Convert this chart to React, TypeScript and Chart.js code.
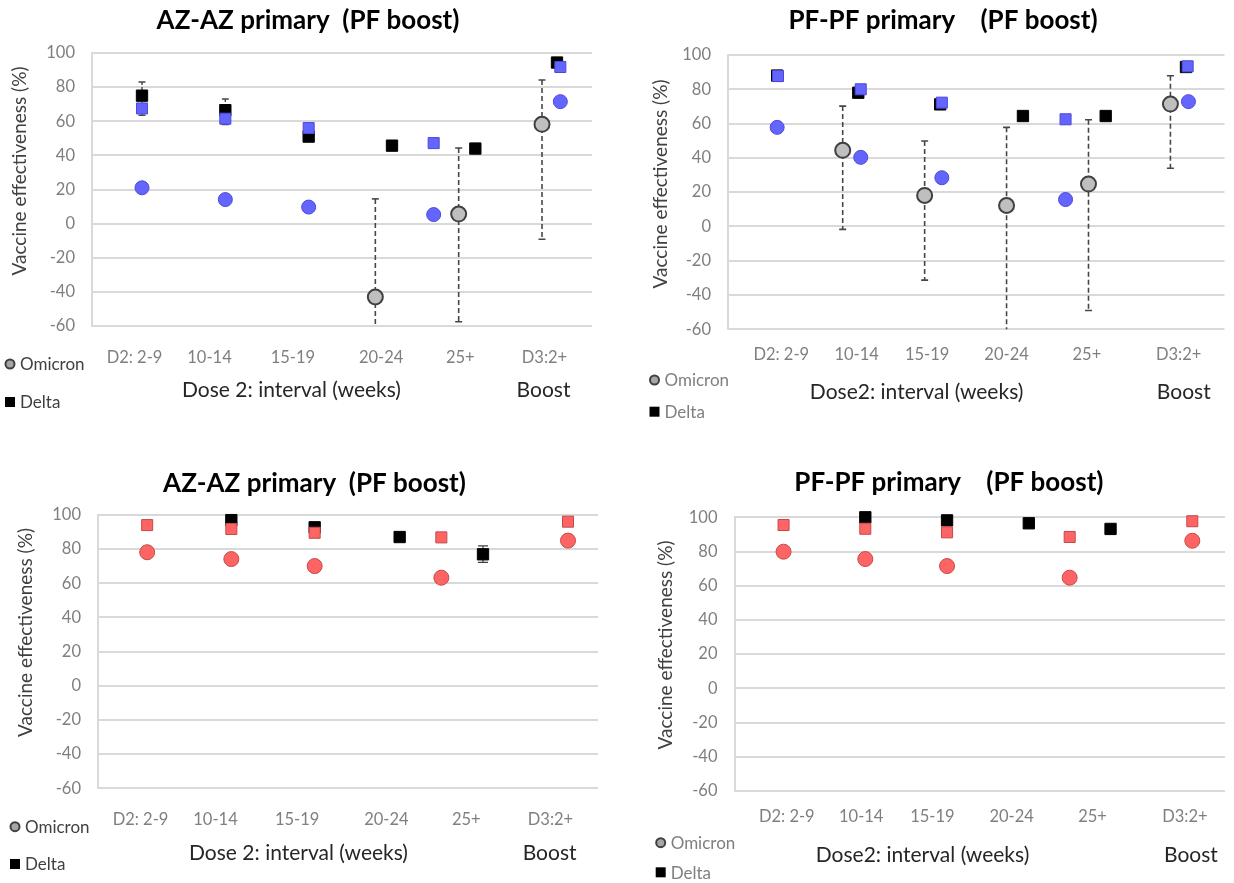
import React, { useEffect, useRef } from "react";
import Chart from "chart.js/auto";

// ---------- shared labels ----------
const xLabels = ["D2: 2-9", "10-14", "15-19", "20-24", "25+", "D3:2+"];
const yMin = -60;
const yMax = 100;
const yStep = 20;

// ---------- Panel 1: AZ-AZ primary (top-left) ----------
const p1TickPos = [0.51, 1.41, 2.41, 3.47, 4.42, 5.43];
const p1OmicronX = [3.4, 4.4, 5.4];
const p1OmicronY = [-43, 5.6, 58.2];
const p1OmicronLow = [-80, -57.5, -9.2];
const p1OmicronHigh = [14.5, 44.3, 84.2];
const p1DeltaX = [0.6, 1.6, 2.6, 3.6, 4.6, 5.58];
const p1DeltaY = [75, 66.5, 51, 45.7, 44, 94.4];
const p1DeltaLow = [63.5, 58, null, null, null, null];
const p1DeltaHigh = [83, 73, null, null, null, null];
const p1BlueSqX = [0.6, 1.6, 2.6, 4.1, 5.62];
const p1BlueSqY = [67.5, 61.5, 56, 47.2, 91.8];
const p1BlueCircX = [0.6, 1.6, 2.6, 4.1, 5.62];
const p1BlueCircY = [21, 14.1, 9.7, 5.3, 71.5];

// ---------- Panel 2: PF-PF primary (top-right) ----------
const p2TickPos = [0.65, 1.57, 2.43, 3.4, 4.38, 5.5];
const p2OmicronX = [1.4, 2.4, 3.4, 4.4, 5.4];
const p2OmicronY = [44.4, 18.1, 12.2, 24.7, 71.4];
const p2OmicronLow = [-1.7, -31.3, -80, -49, 33.9];
const p2OmicronHigh = [70.2, 49.8, 57.8, 62.2, 87.9];
const p2DeltaX = [0.6, 1.59, 2.59, 3.6, 4.61, 5.59];
const p2DeltaY = [88, 78, 71.2, 64.4, 64.4, 93];
const p2BlueSqX = [0.61, 1.62, 2.61, 4.12, 5.61];
const p2BlueSqY = [87.7, 80, 72.2, 62.5, 93.4];
const p2BlueCircX = [0.6, 1.62, 2.61, 4.12, 5.62];
const p2BlueCircY = [57.8, 40.3, 28.4, 15.7, 72.8];

// ---------- Panel 3: AZ-AZ primary (bottom-left) ----------
const p3TickPos = [0.51, 1.41, 2.39, 3.46, 4.42, 5.43];
const p3DeltaX = [1.6, 2.6, 3.62, 4.62];
const p3DeltaY = [97, 92.8, 87.1, 77];
const p3DeltaLow = [null, null, null, 72.3];
const p3DeltaHigh = [null, null, null, 81.9];
const p3RedSqX = [0.59, 1.6, 2.6, 4.12, 5.64];
const p3RedSqY = [94.1, 91.8, 89.6, 86.9, 96.1];
const p3RedCircX = [0.59, 1.6, 2.6, 4.12, 5.64];
const p3RedCircY = [78.2, 74.2, 70.1, 63.3, 85];

// ---------- Panel 4: PF-PF primary (bottom-right) ----------
const p4TickPos = [0.64, 1.55, 2.42, 3.39, 4.38, 5.51];
const p4DeltaX = [1.6, 2.6, 3.6, 4.6];
const p4DeltaY = [100, 98.2, 96.5, 93.2];
const p4RedSqX = [0.6, 1.6, 2.6, 4.1, 5.6];
const p4RedSqY = [95.5, 93.3, 91.2, 88.5, 97.7];
const p4RedCircX = [0.6, 1.6, 2.6, 4.1, 5.6];
const p4RedCircY = [79.9, 75.6, 71.5, 64.7, 86.3];

// ---------- styles ----------
const FONT = "Lato, 'Open Sans', 'DejaVu Sans', sans-serif";
const X_AXIS_H = 40;
const GRID = "#d9d9d9";
const TICK_COLOR = "#7f7f7f";

const pts = (xs: number[], ys: number[]) => xs.map((x, i) => ({ x, y: ys[i] }));

const omicronStyle = {
  pointStyle: "circle",
  pointRadius: 7.5,
  backgroundColor: "#bfbfbf",
  borderColor: "#404040",
  borderWidth: 2,
};
const deltaStyle = {
  pointStyle: "rect",
  pointRadius: 8,
  backgroundColor: "#000000",
  borderColor: "#000000",
  borderWidth: 1,
};
const blueSqStyle = {
  pointStyle: "rect",
  pointRadius: 7.8,
  backgroundColor: "#6464ff",
  borderColor: "#4a4ad8",
  borderWidth: 1,
};
const blueCircStyle = {
  pointStyle: "circle",
  pointRadius: 7,
  backgroundColor: "#6464ff",
  borderColor: "#4a4ad8",
  borderWidth: 1,
};
const redSqStyle = {
  pointStyle: "rect",
  pointRadius: 7.8,
  backgroundColor: "#ff6464",
  borderColor: "#c44a4a",
  borderWidth: 1,
};
const redCircStyle = {
  pointStyle: "circle",
  pointRadius: 7.5,
  backgroundColor: "#ff6464",
  borderColor: "#c44a4a",
  borderWidth: 1,
};

type Series = { label: string; xs: number[]; ys: number[]; style: any };
type ErrBar = { xs: number[]; lows: (number | null)[]; highs: (number | null)[]; dash: number[]; color: string; width: number; cap: number };

type PanelCfg = {
  left: number;
  top: number;
  width: number;
  height: number;
  plotLeft: number;
  plotTop: number;
  plotRight: number;
  plotBottom: number;
  xMax: number;
  tickPos: number[];
  xTickPad: number;
  yTickPad: number;
  title: string;
  titleX: number;
  titleY: number;
  yTitleX: number;
  yTitleY: number;
  xTitle: string;
  xTitleX: number;
  boostX: number;
  xTitleY: number;
  legX: number;
  legY1: number;
  legY2: number;
  legColor: string;
  series: Series[];
  errors: ErrBar[];
};

const omicronErr = (xs: number[], lows: (number | null)[], highs: (number | null)[]): ErrBar => ({
  xs, lows, highs, dash: [5, 3], color: "#474747", width: 1.6, cap: 7,
});

const panels: PanelCfg[] = [
  {
    left: 0, top: 0, width: 617, height: 435,
    plotLeft: 92, plotTop: 53, plotRight: 592, plotBottom: 326, xMax: 6,
    tickPos: p1TickPos, xTickPad: 14, yTickPad: 17,
    title: "AZ-AZ primary  (PF boost)", titleX: 308, titleY: 21,
    yTitleX: 20, yTitleY: 171,
    xTitle: "Dose 2: interval (weeks)", xTitleX: 291.5, boostX: 543.5, xTitleY: 390,
    legX: 10, legY1: 364, legY2: 402, legColor: "#404040",
    series: [
      { label: "Blue (square)", xs: p1BlueSqX, ys: p1BlueSqY, style: blueSqStyle },
      { label: "Blue (circle)", xs: p1BlueCircX, ys: p1BlueCircY, style: blueCircStyle },
      { label: "Omicron", xs: p1OmicronX, ys: p1OmicronY, style: omicronStyle },
      { label: "Delta", xs: p1DeltaX, ys: p1DeltaY, style: deltaStyle },
    ],
    errors: [
      omicronErr(p1OmicronX, p1OmicronLow, p1OmicronHigh),
      { xs: p1DeltaX, lows: p1DeltaLow, highs: p1DeltaHigh, dash: [3, 2], color: "#474747", width: 1.4, cap: 7 },
    ],
  },
  {
    left: 617, top: 0, width: 617, height: 435,
    plotLeft: 111, plotTop: 55, plotRight: 617, plotBottom: 329.3, xMax: 6.06,
    tickPos: p2TickPos, xTickPad: 7, yTickPad: 17,
    title: "PF-PF primary    (PF boost)", titleX: 326, titleY: 21,
    yTitleX: 44, yTitleY: 184,
    xTitle: "Dose2: interval (weeks)", xTitleX: 299.6, boostX: 566.8, xTitleY: 392.7,
    legX: 37.5, legY1: 380, legY2: 411.7, legColor: "#7f7f7f",
    series: [
      { label: "Blue (square)", xs: p2BlueSqX, ys: p2BlueSqY, style: blueSqStyle },
      { label: "Blue (circle)", xs: p2BlueCircX, ys: p2BlueCircY, style: blueCircStyle },
      { label: "Omicron", xs: p2OmicronX, ys: p2OmicronY, style: omicronStyle },
      { label: "Delta", xs: p2DeltaX, ys: p2DeltaY, style: deltaStyle },
    ],
    errors: [omicronErr(p2OmicronX, p2OmicronLow, p2OmicronHigh)],
  },
  {
    left: 0, top: 437, width: 617, height: 446,
    plotLeft: 98, plotTop: 78, plotRight: 598, plotBottom: 351.3, xMax: 6,
    tickPos: p3TickPos, xTickPad: 13, yTickPad: 17,
    title: "AZ-AZ primary  (PF boost)", titleX: 314.5, titleY: 46.3,
    yTitleX: 25.7, yTitleY: 195.5,
    xTitle: "Dose 2: interval (weeks)", xTitleX: 298.5, boostX: 549.6, xTitleY: 416.3,
    legX: 15, legY1: 389.7, legY2: 427, legColor: "#404040",
    series: [
      { label: "Red (square)", xs: p3RedSqX, ys: p3RedSqY, style: redSqStyle },
      { label: "Red (circle)", xs: p3RedCircX, ys: p3RedCircY, style: redCircStyle },
      { label: "Delta", xs: p3DeltaX, ys: p3DeltaY, style: deltaStyle },
    ],
    errors: [
      { xs: p3DeltaX, lows: p3DeltaLow, highs: p3DeltaHigh, dash: [], color: "#404040", width: 1.2, cap: 10 },
    ],
  },
  {
    left: 617, top: 437, width: 617, height: 446,
    plotLeft: 117.5, plotTop: 80.3, plotRight: 617, plotBottom: 354, xMax: 6,
    tickPos: p4TickPos, xTickPad: 7.5, yTickPad: 17,
    title: "PF-PF primary    (PF boost)", titleX: 331.9, titleY: 45.7,
    yTitleX: 49, yTitleY: 208,
    xTitle: "Dose2: interval (weeks)", xTitleX: 305.5, boostX: 573.9, xTitleY: 418,
    legX: 43.7, legY1: 405.7, legY2: 435.3, legColor: "#7f7f7f",
    series: [
      { label: "Red (square)", xs: p4RedSqX, ys: p4RedSqY, style: redSqStyle },
      { label: "Red (circle)", xs: p4RedCircX, ys: p4RedCircY, style: redCircStyle },
      { label: "Delta", xs: p4DeltaX, ys: p4DeltaY, style: deltaStyle },
    ],
    errors: [],
  },
];

function makeErrorPlugin(cfg: PanelCfg) {
  return {
    id: "errorBars",
    beforeDatasetsDraw(chart: any) {
      const { ctx, chartArea, scales } = chart;
      const xs = scales.x;
      const ys = scales.y;
      ctx.save();
      ctx.beginPath();
      ctx.rect(chartArea.left - 10, chartArea.top - 10, chartArea.right - chartArea.left + 20, chartArea.bottom - chartArea.top + 10);
      ctx.clip();
      cfg.errors.forEach((e) => {
        ctx.strokeStyle = e.color;
        ctx.lineWidth = e.width;
        e.xs.forEach((xv, i) => {
          const lo = e.lows[i];
          const hi = e.highs[i];
          if (lo == null || hi == null) return;
          const px = xs.getPixelForValue(xv);
          const pyLo = ys.getPixelForValue(lo);
          const pyHi = ys.getPixelForValue(hi);
          ctx.setLineDash(e.dash);
          ctx.beginPath();
          ctx.moveTo(px, pyHi);
          ctx.lineTo(px, pyLo);
          ctx.stroke();
          ctx.setLineDash([]);
          ctx.beginPath();
          ctx.moveTo(px - e.cap / 2, pyHi);
          ctx.lineTo(px + e.cap / 2, pyHi);
          if (lo > yMin) {
            ctx.moveTo(px - e.cap / 2, pyLo);
            ctx.lineTo(px + e.cap / 2, pyLo);
          }
          ctx.stroke();
        });
      });
      ctx.restore();
    },
  };
}

function makeTextPlugin(cfg: PanelCfg) {
  return {
    id: "panelText",
    afterDraw(chart: any) {
      const { ctx } = chart;
      ctx.save();
      ctx.textBaseline = "middle";
      ctx.textAlign = "center";
      // title
      ctx.fillStyle = "#000000";
      ctx.font = `bold 26px ${FONT}`;
      ctx.fillText(cfg.title, cfg.titleX, cfg.titleY);
      // y title
      ctx.save();
      ctx.translate(cfg.yTitleX, cfg.yTitleY);
      ctx.rotate(-Math.PI / 2);
      ctx.fillStyle = "#404040";
      ctx.font = `19px ${FONT}`;
      ctx.fillText("Vaccine effectiveness (%)", 0, 0);
      ctx.restore();
      // x titles
      ctx.fillStyle = "#262626";
      ctx.font = `21px ${FONT}`;
      ctx.fillText(cfg.xTitle, cfg.xTitleX, cfg.xTitleY);
      ctx.fillText("Boost", cfg.boostX, cfg.xTitleY);
      // legend
      ctx.textAlign = "left";
      ctx.font = `17px ${FONT}`;
      ctx.fillStyle = "#a6a6a6";
      ctx.strokeStyle = "#404040";
      ctx.lineWidth = 2;
      ctx.beginPath();
      ctx.arc(cfg.legX, cfg.legY1, 4.5, 0, Math.PI * 2);
      ctx.fill();
      ctx.stroke();
      ctx.fillStyle = "#000000";
      ctx.fillRect(cfg.legX - 5, cfg.legY2 - 5, 10, 10);
      ctx.fillStyle = cfg.legColor;
      ctx.fillText("Omicron", cfg.legX + 10, cfg.legY1 + 1);
      ctx.fillText("Delta", cfg.legX + 10, cfg.legY2 + 1);
      ctx.restore();
    },
  };
}

function Panel({ cfg }: { cfg: PanelCfg }) {
  const ref = useRef<HTMLCanvasElement | null>(null);
  useEffect(() => {
    if (!ref.current) return;
    const chart = new Chart(ref.current, {
      type: "scatter",
      data: {
        datasets: cfg.series.map((s, i) => ({
          label: s.label,
          data: pts(s.xs, s.ys),
          showLine: false,
          clip: false,
          order: i,
          ...s.style,
        })),
      },
      options: {
        animation: false,
        responsive: false,
        devicePixelRatio: 1,
        layout: {
          padding: {
            left: 0,
            top: cfg.plotTop,
            right: cfg.width - cfg.plotRight,
            bottom: cfg.height - cfg.plotBottom - X_AXIS_H,
          },
        },
        plugins: {
          legend: { display: false },
          tooltip: { enabled: false },
          title: { display: false },
        },
        scales: {
          x: {
            type: "linear",
            position: "bottom",
            min: 0,
            max: cfg.xMax,
            grid: { display: false },
            border: { display: false },
            afterBuildTicks: (scale: any) => {
              scale.ticks = cfg.tickPos.map((v) => ({ value: v }));
            },
            afterFit: (scale: any) => {
              scale.height = X_AXIS_H;
            },
            ticks: {
              autoSkip: false,
              maxRotation: 0,
              minRotation: 0,
              padding: cfg.xTickPad,
              color: TICK_COLOR,
              font: { family: FONT, size: 16.5 },
              callback: (_v: any, i: number) => xLabels[i],
            },
          },
          y: {
            min: yMin,
            max: yMax,
            afterFit: (scale: any) => {
              scale.width = cfg.plotLeft;
            },
            ticks: {
              stepSize: yStep,
              padding: cfg.yTickPad,
              color: TICK_COLOR,
              font: { family: FONT, size: 16.5 },
            },
            grid: { color: GRID, lineWidth: 2, drawTicks: false },
            border: { display: true, color: GRID, width: 2 },
          },
        },
      },
      plugins: [makeErrorPlugin(cfg), makeTextPlugin(cfg)],
    } as any);
    return () => chart.destroy();
  }, [cfg]);
  return (
    <canvas
      ref={ref}
      width={cfg.width}
      height={cfg.height}
      style={{ position: "absolute", left: cfg.left, top: cfg.top, width: cfg.width, height: cfg.height }}
    />
  );
}

export default function App() {
  return (
    <div style={{ position: "absolute", left: 0, top: 0, width: 1234, height: 883, background: "#ffffff", overflow: "hidden" }}>
      {panels.map((p, i) => (
        <Panel key={i} cfg={p} />
      ))}
    </div>
  );
}
